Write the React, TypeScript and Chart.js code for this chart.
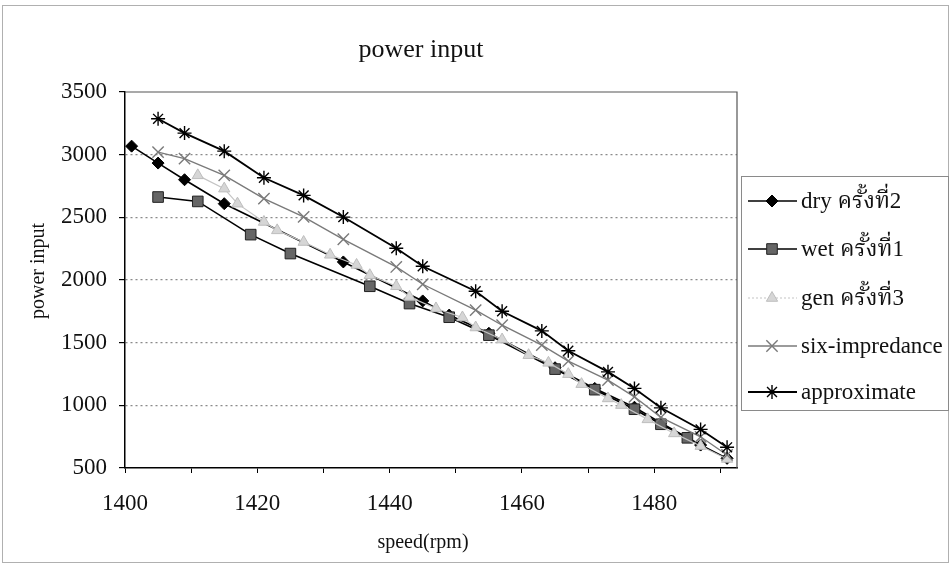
import React, { useEffect, useRef } from "react";
import { Chart, registerables } from "chart.js";
import { drawPoint } from "chart.js/helpers";

Chart.register(...registerables);

const TITLE = "power input";
const X_TITLE = "speed(rpm)";
const Y_TITLE = "power input";
const SERIES_NAMES = ["dry ครั้งที่2", "wet ครั้งที่1", "gen ครั้งที่3", "six-impredance", "approximate"];

const dryX = [1401, 1405, 1409, 1415, 1433, 1445, 1449, 1455, 1465, 1471, 1477, 1481, 1487, 1491];
const dryY = [3068, 2933, 2800, 2609, 2144, 1833, 1720, 1575, 1300, 1135, 985, 860, 683, 577];

const wetX = [1405, 1411, 1419, 1425, 1437, 1443, 1449, 1455, 1465, 1471, 1477, 1481, 1485];
const wetY = [2662, 2627, 2362, 2211, 1950, 1812, 1703, 1560, 1289, 1125, 969, 849, 741];

const genX = [1411, 1415, 1417, 1421, 1423, 1427, 1431, 1435, 1437, 1441, 1443, 1447, 1451, 1453, 1457, 1461, 1464, 1467, 1469, 1473, 1475, 1479, 1483, 1487, 1491];
const genY = [2835, 2729, 2609, 2463, 2396, 2303, 2201, 2120, 2038, 1950, 1865, 1773, 1701, 1621, 1525, 1400, 1339, 1249, 1169, 1055, 1002, 888, 776, 675, 572];

const sixX = [1405, 1409, 1415, 1421, 1427, 1433, 1441, 1445, 1453, 1457, 1463, 1467, 1473, 1477, 1481, 1487, 1491];
const sixY = [3020, 2968, 2835, 2649, 2504, 2325, 2104, 1966, 1759, 1639, 1480, 1353, 1201, 1068, 904, 749, 604];

const approxX = [1405, 1409, 1415, 1421, 1427, 1433, 1441, 1445, 1453, 1457, 1463, 1467, 1473, 1477, 1481, 1487, 1491];
const approxY = [3286, 3172, 3028, 2816, 2675, 2502, 2253, 2110, 1910, 1751, 1594, 1436, 1267, 1135, 980, 808, 665];

const X_MIN = 1400;
const X_MAX = 1492.5;
const Y_MIN = 500;
const Y_MAX = 3500;

const SERIF = '"Liberation Serif", "Times New Roman", "Noto Serif Thai", "Noto Sans Thai", "Loma", "Garuda", serif';

const pts = (xs: number[], ys: number[]) => xs.map((x, i) => ({ x, y: ys[i] }));

const styles = [
  { line: "#000000", fill: "#000000", stroke: "#000000", style: "rectRot", r: 6, w: 1.6, pw: 1 },
  { line: "#000000", fill: "#666666", stroke: "#222222", style: "rect", r: 7.5, w: 1.6, pw: 1 },
  { line: "#c4c4c4", fill: "#d6d6d6", stroke: "#bdbdbd", style: "triangle", r: 6.5, w: 1.2, pw: 1 },
  { line: "#7a7a7a", fill: "#7a7a7a", stroke: "#7a7a7a", style: "crossRot", r: 8, w: 1.4, pw: 1.4 },
  { line: "#000000", fill: "#000000", stroke: "#000000", style: "star", r: 7, w: 1.8, pw: 1.4 },
];

const framePlugin = {
  id: "framePlugin",
  beforeDatasetsDraw(chart: any) {
    const { ctx, chartArea } = chart;
    ctx.save();
    ctx.strokeStyle = "#555";
    ctx.lineWidth = 1.2;
    ctx.beginPath();
    ctx.moveTo(chartArea.left, chartArea.top);
    ctx.lineTo(chartArea.right, chartArea.top);
    ctx.lineTo(chartArea.right, chartArea.bottom);
    ctx.stroke();
    ctx.restore();
  },
  afterDraw(chart: any) {
    const { ctx, chartArea } = chart;
    ctx.save();
    // outer frame
    ctx.strokeStyle = "#b0b0b0";
    ctx.lineWidth = 1;
    ctx.strokeRect(2.5, 5.5, 946, 557);
    // title
    ctx.fillStyle = "#111";
    ctx.font = `26px ${SERIF}`;
    ctx.textAlign = "center";
    ctx.textBaseline = "alphabetic";
    ctx.fillText(TITLE, 421, 57);
    // axis titles
    ctx.font = `20px ${SERIF}`;
    ctx.textBaseline = "middle";
    ctx.fillText(X_TITLE, 423, 543);
    ctx.save();
    ctx.translate(39, 271);
    ctx.rotate(-Math.PI / 2);
    ctx.fillText(Y_TITLE, 0, 0);
    ctx.restore();
    // legend
    const lx = 741, ly = 176, lw = 207, lh = 234;
    ctx.strokeStyle = "#8a8a8a";
    ctx.lineWidth = 1;
    ctx.strokeRect(lx + 0.5, ly + 0.5, lw, lh);
    const ys = [201, 249, 298, 346, 392];
    SERIES_NAMES.forEach((name, i) => {
      const s = styles[i];
      const y = ys[i];
      ctx.strokeStyle = s.line;
      ctx.lineWidth = s.w;
      ctx.setLineDash(i === 2 ? [2, 2] : []);
      ctx.beginPath();
      ctx.moveTo(748, y);
      ctx.lineTo(797, y);
      ctx.stroke();
      ctx.setLineDash([]);
      ctx.fillStyle = s.fill;
      ctx.strokeStyle = s.stroke;
      ctx.lineWidth = s.pw;
      drawPoint(ctx, { pointStyle: s.style, radius: s.r, rotation: 0, borderWidth: s.pw } as any, 772, y);
      ctx.fillStyle = "#111";
      ctx.font = `23px ${SERIF}`;
      ctx.textAlign = "left";
      ctx.textBaseline = "middle";
      ctx.fillText(name, 801, y + 1);
    });
    ctx.restore();
  },
};

export default function App() {
  const ref = useRef<HTMLCanvasElement | null>(null);
  useEffect(() => {
    document.body.style.margin = "0";
    const canvas = ref.current!;
    const series = [pts(dryX, dryY), pts(wetX, wetY), pts(genX, genY), pts(sixX, sixY), pts(approxX, approxY)];
    const chart = new Chart(canvas, {
      type: "line",
      data: {
        datasets: series.map((d, i) => ({
          label: SERIES_NAMES[i],
          data: d,
          borderColor: styles[i].line,
          borderWidth: styles[i].w,
          backgroundColor: styles[i].fill,
          pointStyle: styles[i].style as any,
          pointRadius: styles[i].r,
          pointBackgroundColor: styles[i].fill,
          pointBorderColor: styles[i].stroke,
          pointBorderWidth: styles[i].pw,
          tension: 0,
          fill: false,
          order: 5 - i,
        })),
      },
      options: {
        responsive: false,
        animation: false,
        layout: { padding: { left: 0, right: 951 - 737, top: 92, bottom: 0 } },
        plugins: {
          legend: { display: false },
          title: { display: false },
          tooltip: { enabled: false },
        },
        scales: {
          x: {
            type: "linear",
            min: X_MIN,
            max: X_MAX,
            afterFit: (s: any) => { s.height = 566 - 468; },
            ticks: {
              stepSize: 10,
              includeBounds: false,
              autoSkip: false,
              maxRotation: 0,
              padding: 17,
              color: "#111",
              font: { family: SERIF, size: 23 },
              callback: (v: any) => (Number(v) % 20 === 0 ? String(v) : ""),
            },
            grid: { drawOnChartArea: false, drawTicks: true, tickLength: 5, tickColor: "#000" },
            border: { display: true, color: "#000", width: 1.5 },
            title: { display: false },
          },
          y: {
            type: "linear",
            min: Y_MIN,
            max: Y_MAX,
            afterFit: (s: any) => { s.width = 125; },
            ticks: {
              stepSize: 500,
              padding: 12,
              color: "#111",
              font: { family: SERIF, size: 23 },
              callback: (v: any) => String(v),
            },
            grid: {
              drawOnChartArea: true,
              drawTicks: true,
              tickLength: 6,
              tickColor: "#000",
              color: (c: any) => (c.tick && (c.tick.value === Y_MIN || c.tick.value === Y_MAX) ? "rgba(0,0,0,0)" : "#8a8a8a"),
              lineWidth: 1.2,
            },
            border: { display: true, color: "#000", width: 1.5, dash: [2, 3] },
            title: { display: false },
          },
        },
      },
      plugins: [framePlugin],
    });
    return () => chart.destroy();
  }, []);
  return (
    <div style={{ width: 951, height: 566, background: "#fff" }}>
      <canvas ref={ref} width={951} height={566} style={{ display: "block" }} />
    </div>
  );
}
